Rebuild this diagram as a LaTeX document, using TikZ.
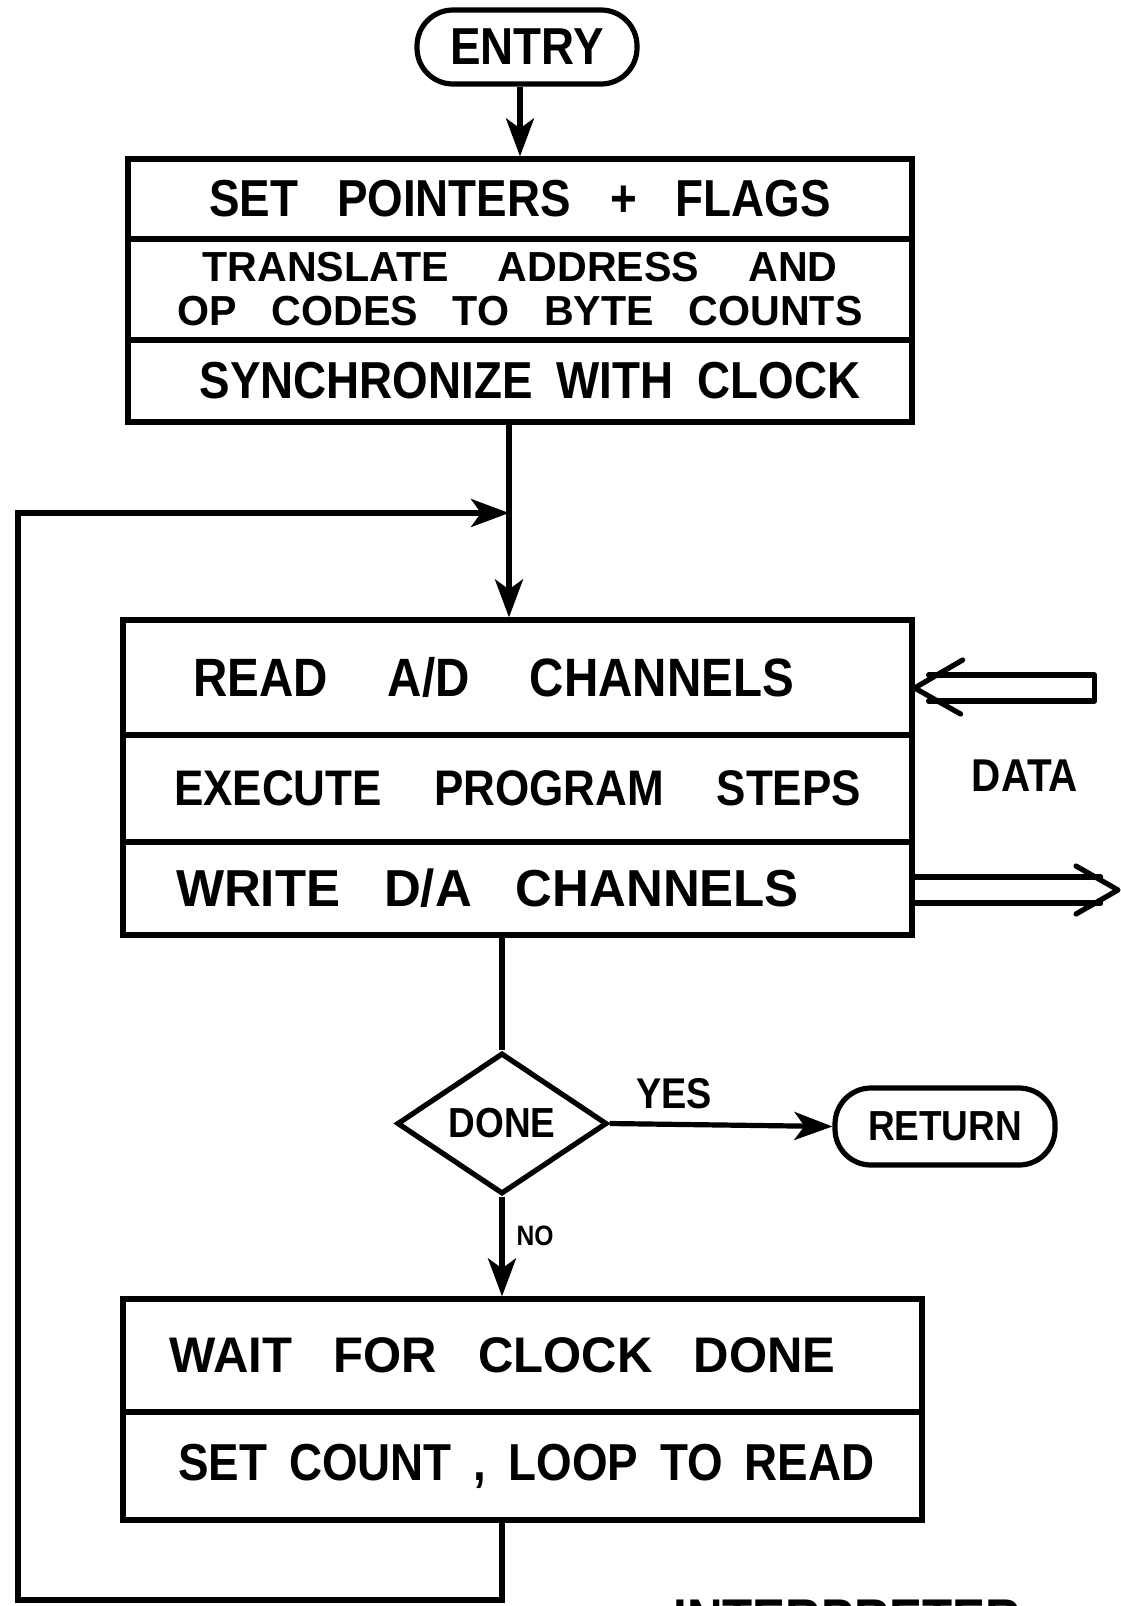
\documentclass[tikz,border=0pt]{standalone}
\usepackage{fontspec}
\newfontfamily\hand[FakeStretch=0.88,WordSpace=2.6]{Liberation Sans}
\newfontfamily\handwide[FakeStretch=0.98,WordSpace=2.6]{Liberation Sans}
\newcommand{\spread}[2]{\makebox[#1][s]{#2}}
\usetikzlibrary{arrows.meta,shapes.geometric,calc}
\begin{document}
\begin{tikzpicture}[x=0.5pt,y=-0.5pt,line width=2.6pt,
        txt/.style={font=\hand\bfseries\fontsize{#1}{#1}\selectfont},
        wtxt/.style={font=\handwide\bfseries\fontsize{#1}{#1}\selectfont},
        row/.style n args={2}{rectangle,draw,minimum width=#1,minimum height=#2,inner sep=0pt,align=center},
        term/.style={rectangle,draw,rounded corners=18pt,minimum width=110pt,minimum height=37pt,inner sep=0pt},
        flow/.style={-{Stealth[length=19pt,width=14pt,inset=5pt]}},
        bus/.style={line join=round,line cap=round}]
        \useasboundingbox (0,0) rectangle (1120,1606);
        \coordinate (join) at (509,513);\coordinate (lowleft) at (18,1600);
        \coordinate (datain) at (1092,688);\coordinate (dataout) at (1118,890);
        % start up
        \node[term,txt=26] (entry) at (527,47) {ENTRY};
        \node[row={392pt}{40pt},txt=26] (pointers) at (520,199) {\spread{311pt}{SET POINTERS + FLAGS}};
        \node[row={392pt}{50.5pt},font=\handwide\bfseries\fontsize{21}{22}\selectfont] (translate) at (520,289.5)
                {\spread{317.5pt}{TRANSLATE ADDRESS AND}\hspace{19pt}\\\spread{342.5pt}{OP CODES TO BYTE COUNTS}};
        \node[row={392pt}{41pt},txt=26] (sync) at (520,381) {\hspace{10pt}\spread{330.5pt}{SYNCHRONIZE WITH CLOCK}};
        % main loop
        \node[row={394.5pt}{57.5pt},txt=27] (read) at (517.5,677.5) {\spread{300.5pt}{READ A/D CHANNELS}\hspace{24pt}};
        \node[row={394.5pt}{53.5pt},txt=25] (exec) at (517.5,788.5) {\spread{343.5pt}{EXECUTE PROGRAM STEPS}};
        \node[row={394.5pt}{46.5pt},wtxt=26] (write) at (517.5,888.5) {\spread{311.5pt}{WRITE D/A CHANNELS}\hspace{30pt}};
        \node[diamond,draw,minimum width=105pt,minimum height=70.5pt,inner sep=0pt,txt=21] (done) at (502,1123.5) {DONE};
        \node[term,minimum height=38.5pt,txt=21] (ret) at (945,1126.5) {RETURN};
        \node[row={399.5pt}{56.5pt},wtxt=25] (wait) at (522.5,1355.5) {\spread{333pt}{WAIT FOR CLOCK DONE}\hspace{20pt}};
        \node[row={399.5pt}{54pt},txt=26] (loop) at (522.5,1466) {\spread{344.5pt}{SET COUNT , LOOP TO READ}};
        \node[txt=21.5] (yes) at (674,1094) {YES};
        \node[txt=14] (no) at (535,1236) {NO};
        \node[txt=23] (data) at (1025,776) {DATA};
        \node[txt=28,anchor=north west,inner sep=0pt] (interp) at (671,1597) {INTERPRETER};
        \draw[flow] (entry.south -| pointers) -- (pointers.north);
        \draw (sync.south -| join) -- (join);
        \draw[flow] (join) -- (read.north -| join);
        \draw (write.south -| done) -- (done.north);
        \draw[flow] (done.east) -- (ret.west);
        \draw[flow] (done.south) -- (wait.north -| done);
        \draw[flow] (loop.south -| done) |- (lowleft) |- (join);
        % data in and out
        \draw[bus] ($(read.east |- datain)+(14,-13)$) -- ++(166,0) -- ++(0,26) -- ++(-166,0);
        \draw[bus] ($(read.east |- datain)+(48,-28)$) -- (read.east |- datain) -- ++(46,26);
        \draw[bus] ($(write.east |- dataout)+(0,-13)$) -- ++(186,0) ($(write.east |- dataout)+(0,13)$) -- ++(186,0);
        \draw[bus] ($(dataout)+(-42,-24)$) -- (dataout) -- ++(-42,24);
\end{tikzpicture}
\end{document}
